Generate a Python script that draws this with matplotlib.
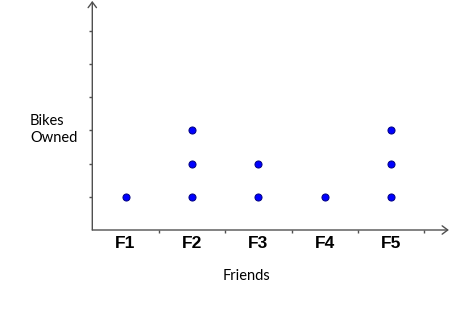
import matplotlib.pyplot as plt

friends = ["F1", "F2", "F3", "F4", "F5"]
bikes = [1, 3, 2, 1, 3]
x_ticks = [1, 2, 3, 4, 5]
y_ticks = [1, 2, 3, 4, 5, 6]

W, H = 450, 312
ux, uy = 66.4, 33.2          # pixels per data unit
x0, y0 = 92.3, 230.0         # origin in pixels (from top-left)
xmax, ymax = 5.37, 6.9
axis_col = "#505050"

fig = plt.figure(figsize=(W / 100, H / 100), dpi=100)
ax = fig.add_axes([x0 / W, (H - y0) / H, xmax * ux / W, ymax * uy / H])
ax.set_xlim(0, xmax)
ax.set_ylim(0, ymax)
for s in ax.spines.values():
    s.set_visible(False)

# axes drawn as arrows
arrow = dict(arrowstyle="->,head_length=0.4,head_width=0.3", color=axis_col,
             lw=1, shrinkA=0, shrinkB=0)
ax.annotate("", xy=(xmax, 0), xytext=(0, 0), arrowprops=arrow, annotation_clip=False)
ax.annotate("", xy=(0, ymax), xytext=(0, 0), arrowprops=arrow, annotation_clip=False)

ax.set_xticks(x_ticks)
ax.set_yticks(y_ticks)
ax.tick_params(axis="both", which="major", length=2, width=1, color=axis_col,
               direction="out", labelbottom=False, labelleft=False)
ax.set_xticks([i + 0.5 for i in range(len(friends))], minor=True)
ax.set_xticklabels(friends, minor=True, fontfamily="Liberation Sans", fontsize=12.5,
                   fontweight="bold")
ax.tick_params(axis="x", which="minor", length=0, pad=4)

# dots
for i, n in enumerate(bikes):
    ax.scatter([i + 0.5] * n, range(1, n + 1), s=26, color="#0000ff",
               edgecolors="#000080", linewidths=0.7, zorder=3, clip_on=False)

ax.text((30 - x0) / ux, (y0 - 125) / uy, "Bikes", fontfamily="Lato", fontsize=10.5,
        va="baseline", ha="left")
ax.text((30 - x0) / ux, (y0 - 142) / uy, "Owned", fontfamily="Lato", fontsize=10.5,
        va="baseline", ha="left")
ax.text((246.7 - x0) / ux, (y0 - 279.5) / uy, "Friends", fontfamily="Lato",
        fontsize=10.5, va="baseline", ha="center")

fig.savefig("out.png", dpi=100)
